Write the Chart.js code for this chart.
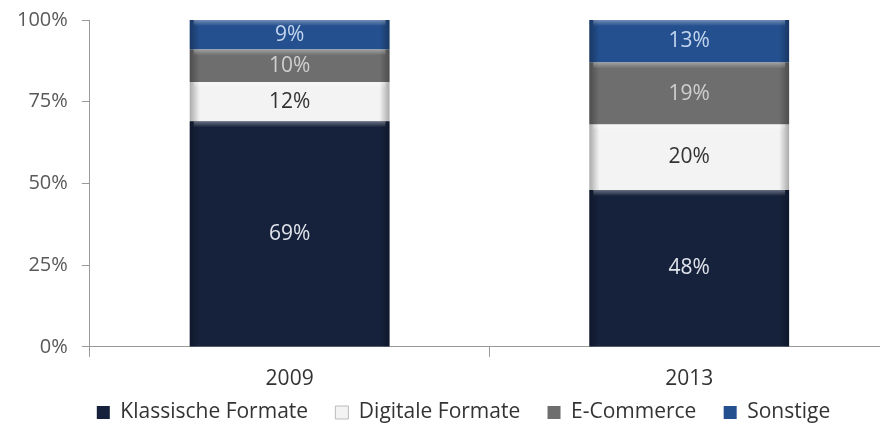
<!DOCTYPE html>
<html>
<head>
<meta charset="utf-8">
<script src="https://cdn.jsdelivr.net/npm/chart.js@4"></script>
<style>
  html, body { margin: 0; padding: 0; background: #fff; }
  #wrap { width: 880px; height: 429px; }
</style>
</head>
<body>
<div id="wrap"><canvas id="shareChart"></canvas></div>
<script>
const years = ['2009', '2013'];
const klassisch = [69, 48];
const digital = [12, 20];
const ecommerce = [10, 19];
const sonstige = [9, 13];
const yTicks = [0, 25, 50, 75, 100];

const seriesNames = ['Klassische Formate', 'Digitale Formate', 'E-Commerce', 'Sonstige'];
const seriesColors = ['#16223c', '#f3f3f3', '#6e6e6e', '#24508f'];
const labelColors = ['#dfe3ea', '#333333', '#cfcfcf', '#c3d5ef'];
const FONT = '"Open Sans", Lato, sans-serif';

// the original plot runs a little past the right edge of the image,
// and its legend sits a bit right of centre
const layoutTweaks = {
    id: 'layoutTweaks',
    afterLayout(chart) {
        const x = chart.scales.x;
        x.right += 9;
        x.width = x.right - x.left;
        x.configure();
        chart.chartArea.right = x.right;
        chart.chartArea.width = x.width;
        chart.legend.left += 22;
        chart.legend.right += 22;
    }
};

// bevel shading + value labels on each segment
const segmentPlugin = {
    id: 'segments',
    afterDatasetsDraw(chart) {
        const ctx = chart.ctx;
        chart.data.datasets.forEach((ds, i) => {
            const meta = chart.getDatasetMeta(i);
            meta.data.forEach((bar, j) => {
                const left = bar.x - bar.width / 2;
                const top = Math.min(bar.y, bar.base);
                const h = Math.abs(bar.base - bar.y);
                const g = ctx.createLinearGradient(left, 0, left + bar.width, 0);
                g.addColorStop(0, 'rgba(0,0,0,0.30)');
                g.addColorStop(0.05, 'rgba(0,0,0,0)');
                g.addColorStop(0.95, 'rgba(0,0,0,0)');
                g.addColorStop(1, 'rgba(0,0,0,0.30)');
                ctx.save();
                ctx.fillStyle = g;
                ctx.fillRect(left, top, bar.width, h);
                const v = ctx.createLinearGradient(0, top, 0, top + 6);
                v.addColorStop(0, 'rgba(255,255,255,0.35)');
                v.addColorStop(1, 'rgba(255,255,255,0)');
                ctx.fillStyle = v;
                ctx.fillRect(left + 4, top, bar.width - 8, 6);
                ctx.font = '21px ' + FONT;
                ctx.fillStyle = labelColors[i];
                ctx.textAlign = 'center';
                ctx.textBaseline = 'middle';
                ctx.fillText(ds.data[j] + '%', bar.x, top + h / 2);
                ctx.restore();
            });
        });
    }
};

const ctx = document.getElementById('shareChart');
new Chart(ctx, {
    type: 'bar',
    data: {
        labels: years,
        datasets: [klassisch, digital, ecommerce, sonstige].map((d, i) => ({
            label: seriesNames[i],
            data: d,
            backgroundColor: seriesColors[i],
            borderColor: i === 1 ? '#bbbbbb' : seriesColors[i],
            borderWidth: 0,
            barPercentage: 0.5,
            categoryPercentage: 1
        }))
    },
    options: {
        responsive: true,
        maintainAspectRatio: false,
        animation: false,
        layout: { padding: { left: 3, right: 0, top: 0, bottom: 0 } },
        plugins: {
            tooltip: { enabled: false },
            legend: {
                position: 'bottom',
                maxHeight: 27,
                labels: {
                    boxWidth: 13,
                    boxHeight: 13,
                    padding: 0,
                    color: '#333',
                    font: { family: FONT, size: 21 },
                    generateLabels(chart) {
                        const items = Chart.defaults.plugins.legend.labels.generateLabels(chart);
                        items.forEach((it, i) => {
                            it.lineWidth = i === 1 ? 1 : 0;
                            if (i < items.length - 1) it.text += '\u00a0\u00a0\u00a0\u00a0\u00a0';
                        });
                        return items;
                    }
                }
            }
        },
        scales: {
            x: {
                stacked: true,
                grid: { drawOnChartArea: false, color: '#999', tickLength: 10, offset: true },
                border: { color: '#999' },
                ticks: { color: '#333', padding: 11, font: { family: FONT, size: 21, lineHeight: 1.1 } }
            },
            y: {
                stacked: true,
                min: 0,
                max: 100,
                afterBuildTicks(axis) { axis.ticks = yTicks.map(v => ({ value: v })); },
                afterFit(axis) { axis.paddingTop = 20; },
                grid: { drawOnChartArea: false, color: '#999', tickLength: 8 },
                border: { color: '#999' },
                ticks: {
                    color: '#595959',
                    padding: 14,
                    font: { family: FONT, size: 20 },
                    callback: v => v + '%'
                }
            }
        }
    },
    plugins: [layoutTweaks, segmentPlugin]
});
</script>
</body>
</html>
